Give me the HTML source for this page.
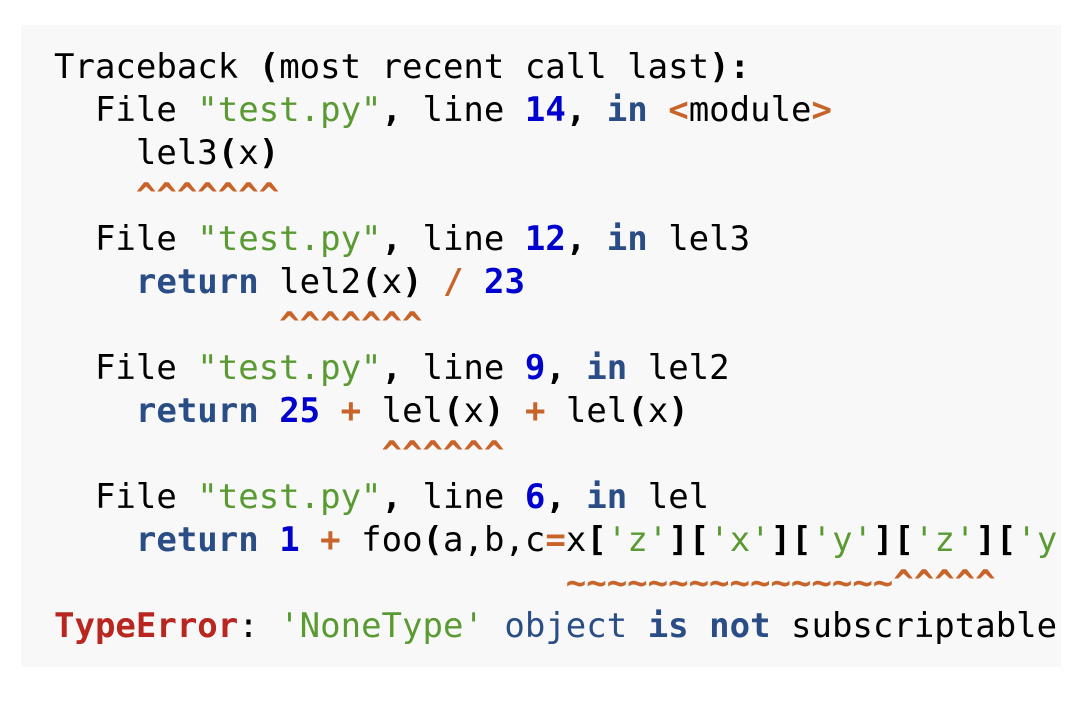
<!DOCTYPE html>
<html><head><meta charset="utf-8"><style>
html,body{margin:0;padding:0;background:#fff;width:1080px;height:703px;overflow:hidden}
.box{position:absolute;left:21px;top:25px;width:1040px;height:642px;background:#f8f8f8;overflow:hidden}
pre{margin:0;position:absolute;left:33px;top:21px;font-family:"DejaVu Sans Mono","Liberation Mono",monospace;font-size:34px;line-height:43px;color:#000;white-space:pre}
.k{color:#2a4d86;font-weight:bold}
.n{color:#0000cf;font-weight:bold}
.s{color:#5a9a32}
.o{color:#c8642a;font-weight:bold}
.p{font-weight:bold}
.e{color:#b8261f;font-weight:bold}
.b{color:#2a4d86}
</style></head><body><div class="box"><pre>Traceback <span class="p">(</span>most recent call last<span class="p">):</span>
  File <span class="s">"test.py"</span><span class="p">,</span> line <span class="n">14</span><span class="p">,</span> <span class="k">in</span> <span class="o">&lt;</span>module<span class="o">&gt;</span>
    lel3<span class="p">(</span>x<span class="p">)</span>
    <span class="o">^^^^^^^</span>
  File <span class="s">"test.py"</span><span class="p">,</span> line <span class="n">12</span><span class="p">,</span> <span class="k">in</span> lel3
    <span class="k">return</span> lel2<span class="p">(</span>x<span class="p">)</span> <span class="o">/</span> <span class="n">23</span>
           <span class="o">^^^^^^^</span>
  File <span class="s">"test.py"</span><span class="p">,</span> line <span class="n">9</span><span class="p">,</span> <span class="k">in</span> lel2
    <span class="k">return</span> <span class="n">25</span> <span class="o">+</span> lel<span class="p">(</span>x<span class="p">)</span> <span class="o">+</span> lel<span class="p">(</span>x<span class="p">)</span>
                <span class="o">^^^^^^</span>
  File <span class="s">"test.py"</span><span class="p">,</span> line <span class="n">6</span><span class="p">,</span> <span class="k">in</span> lel
    <span class="k">return</span> <span class="n">1</span> <span class="o">+</span> foo<span class="p">(</span>a,b,c<span class="o">=</span>x<span class="p">[</span><span class="s">'z'</span><span class="p">][</span><span class="s">'x'</span><span class="p">][</span><span class="s">'y'</span><span class="p">][</span><span class="s">'z'</span><span class="p">][</span><span class="s">'y'</span><span class="p">])</span>
                         <span class="o">~~~~~~~~~~~~~~~~^^^^^</span>
<span class="e">TypeError</span>: <span class="s">'NoneType'</span> <span class="b">object</span> <span class="k">is</span> <span class="k">not</span> subscriptable</pre></div></body></html>
